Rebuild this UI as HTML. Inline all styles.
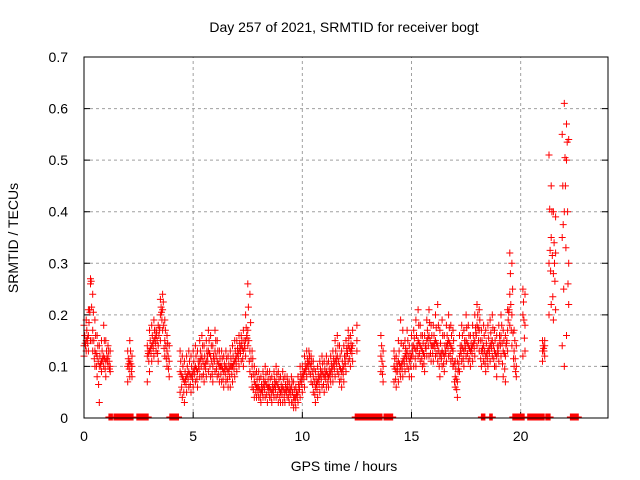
<!DOCTYPE html>
<html><head><meta charset="utf-8"><style>
html,body{margin:0;padding:0;background:#fff;}
svg{display:block;font-family:"Liberation Sans",sans-serif;}
</style></head><body>
<svg id="chart" width="640" height="480">
<text x="344" y="32" font-size="14" text-anchor="middle">Day 257 of 2021, SRMTID for receiver bogt</text>
<text x="344" y="471" font-size="14" text-anchor="middle">GPS time / hours</text>
<text x="18" y="238" font-size="14" text-anchor="middle" transform="rotate(-90 18 238)">SRMTID / TECUs</text>
<g id="grid"></g><g id="ticks"></g><g id="marks"></g>
<rect x="84" y="57" width="524" height="361" fill="none" stroke="#000" stroke-width="1"/>
</svg>
<script>
const startHour = 0;
const stepHour = 0.1;
const xTicks = [0,5,10,15,20];
const yTicks = [0,0.1,0.2,0.3,0.4,0.5,0.6,0.7];
const yTickLabels = ["0","0.1","0.2","0.3","0.4","0.5","0.6","0.7"];
const N = null;
const valMid = [
.14,.15,.16,.26,.17,.13,.12,.10,.11,.12,
.11,.12,.10,N,N,N,N,N,N,N,
.10,.11,.10,N,N,N,N,N,N,.12,
.13,.14,.15,.16,.14,.20,.21,.15,.13,.11,
N,N,N,N,.09,.08,.07,.08,.09,.08,
.09,.10,.09,.11,.12,.10,.11,.13,.12,.10,
.13,.11,.10,.10,.09,.10,.09,.10,.10,.11,
.12,.13,.14,.13,.15,.17,.13,.10,.07,.06,
.06,.05,.06,.07,.06,.06,.05,.06,.07,.06,
.05,.06,.05,.06,.05,.06,.04,.04,.05,.07,
.08,.09,.10,.11,.10,.08,.06,.07,.08,.09,
.08,.09,.08,.09,.10,.11,.12,.10,.09,.10,
.12,.14,.13,.14,N,.15,N,N,N,N,
N,N,N,N,N,N,.12,.10,N,N,
N,N,.10,.09,.11,.10,.11,.12,.13,.11,
.12,.14,.13,.15,.14,.13,.12,.15,.16,.14,
.14,.15,.14,.12,.13,.12,.14,.15,.14,.13,
.08,.07,.12,.14,.13,.15,.14,.13,.14,.15,
.18,.17,.13,.14,.12,.13,.14,.15,.13,.12,
.14,.16,.13,.12,.17,.24,.20,.13,.10,N,
N,.20,.18,N,N,N,N,N,N,N,
.13,.14,N,.30,.35,.28,.32,N,N,.35,
.40,.50,.30];
const valHigh = [
.18,.19,.21,.27,.24,.19,.16,.14,.15,.18,
.15,.14,.13,N,N,N,N,N,N,N,
.13,.15,.12,N,N,N,N,N,N,.14,
.17,.18,.19,.17,.18,.23,.24,.19,.16,.14,
N,N,N,N,.13,.12,.11,.12,.13,.12,
.13,.14,.13,.15,.16,.14,.15,.17,.16,.14,
.17,.15,.13,.13,.12,.13,.12,.13,.14,.15,
.15,.16,.16,.17,.20,.26,.24,.13,.10,.09,
.09,.08,.09,.10,.09,.09,.08,.09,.10,.09,
.08,.09,.08,.08,.07,.08,.07,.06,.08,.10,
.10,.12,.13,.13,.12,.11,.09,.10,.11,.12,
.11,.12,.11,.12,.13,.15,.16,.14,.13,.14,
.15,.17,.16,.17,N,.18,N,N,N,N,
N,N,N,N,N,N,.16,.13,N,N,
N,N,.13,.12,.15,.19,.17,.15,.17,.14,
.16,.17,.19,.21,.18,.16,.16,.19,.21,.18,
.18,.20,.22,.17,.19,.16,.18,.20,.18,.17,
.11,.11,.16,.18,.17,.20,.18,.16,.18,.20,
.22,.21,.17,.18,.17,.18,.19,.20,.17,.16,
.18,.20,.17,.16,.21,.32,.30,.17,.14,N,
N,.25,.24,N,N,N,N,N,N,N,
.15,.15,N,.51,.45,.40,.39,N,N,.55,
.61,.57,.54];
const valLow = [
.12,.13,.13,.15,.13,.10,.08,.03,.09,.10,
.08,.10,.09,N,N,N,N,N,N,N,
.07,.08,.08,N,N,N,N,N,N,.07,
.09,.11,.12,.13,.11,.15,.17,.12,.10,.08,
N,N,N,N,.05,.04,.03,.05,.06,.05,
.06,.07,.06,.08,.08,.07,.08,.09,.08,.07,
.09,.08,.07,.07,.06,.07,.06,.06,.07,.08,
.09,.10,.11,.10,.12,.14,.09,.06,.04,.04,
.04,.03,.04,.04,.03,.04,.03,.04,.04,.03,
.03,.03,.03,.04,.03,.03,.02,.02,.03,.04,
.05,.06,.08,.09,.07,.05,.03,.04,.05,.06,
.05,.06,.06,.07,.07,.08,.09,.07,.06,.07,
.09,.11,.10,.11,N,.13,N,N,N,N,
N,N,N,N,N,N,.09,.07,N,N,
N,N,.07,.06,.07,.08,.08,.09,.10,.08,
.08,.10,.10,.12,.11,.10,.09,.12,.12,.11,
.11,.12,.11,.08,.10,.09,.11,.12,.11,.10,
.06,.04,.09,.11,.10,.12,.11,.10,.11,.12,
.14,.13,.10,.11,.09,.10,.11,.12,.10,.08,
.11,.12,.08,.07,.13,.18,.14,.10,.08,N,
N,.12,.13,N,N,N,N,N,N,N,
.11,.12,N,.20,.22,.19,.21,N,N,.14,
.10,.16,.22];
const zeroStart = [1.14,1.37,2.42,3.93,12.42,12.69,13.74,18.2,18.58,19.64,20.32,21.15,22.28];
const zeroEnd   = [1.33,2.28,2.97,4.34,12.69,13.65,14.16,18.36,18.72,20.18,21.1,21.37,22.65];

const X0=84,X1=608,Y0=418,Y1=57;
function xs(h){return X0+(h-0)/24*(X1-X0);}
function ys(v){return Y0-(v/0.7)*(Y0-Y1);}
const NS="http://www.w3.org/2000/svg";
const grid=document.getElementById('grid'),ticks=document.getElementById('ticks'),marks=document.getElementById('marks');
function mk(tag,attrs,parent){const e=document.createElementNS(NS,tag);for(const k in attrs)e.setAttribute(k,attrs[k]);parent.appendChild(e);return e;}
xTicks.forEach(t=>{
  const x=xs(t);
  if(t>0){const g=mk('line',{x1:x,x2:x,y1:Y0,y2:Y1,stroke:'#a0a0a0','stroke-dasharray':'3,3'},grid);
  
  }
  const tk=mk('line',{x1:x,x2:x,y1:Y0,y2:Y0-6,stroke:'#000'},ticks);
  
  
  const tl=mk('text',{x:x,y:Y0+23,'font-size':14,'text-anchor':'middle'},ticks);tl.textContent=t;
  
  
});
yTicks.forEach((v,i)=>{
  const y=ys(v);
  if(v>0&&v<0.7){const g=mk('line',{x1:X0,x2:X1,y1:y,y2:y,stroke:'#a0a0a0','stroke-dasharray':'3,3'},grid);
  
  }
  const tk=mk('path',{d:`M${X0} ${y}h6M${X1} ${y}h-6`,stroke:'#000'},ticks);
  
  
  const tl=mk('text',{x:X0-16,y:y+5,'font-size':14,'text-anchor':'end'},ticks);tl.textContent=yTickLabels[i];
  
  
});
let d='';
function plus(x,y){d+=`M${(x-3.5).toFixed(1)} ${y.toFixed(1)}h7M${x.toFixed(1)} ${(y-3.5).toFixed(1)}v7`;}
[valMid,valHigh,valLow].forEach(arr=>arr.forEach((v,i)=>{if(v!==null)plus(xs(startHour+i*stepHour),ys(v));}));
// interleave between samples for density
for(let i=0;i<valMid.length-1;i++){
  const a=valMid[i],b=valMid[i+1],h=valHigh[i],l=valLow[i+1];
  if(a!==null&&b!==null){plus(xs(startHour+(i+0.5)*stepHour),ys((a+b)/2));
    plus(xs(startHour+(i+0.3)*stepHour),ys((h+a)/2));plus(xs(startHour+(i+0.7)*stepHour),ys((l+b)/2));}
}
zeroStart.forEach((s,i)=>{for(let t=s;t<=zeroEnd[i];t+=0.04)plus(xs(t),ys(0)-1);});
const p=mk('path',{d:d,stroke:'#ff0000','stroke-width':1,fill:'none'},marks);


</script>
</body></html>
